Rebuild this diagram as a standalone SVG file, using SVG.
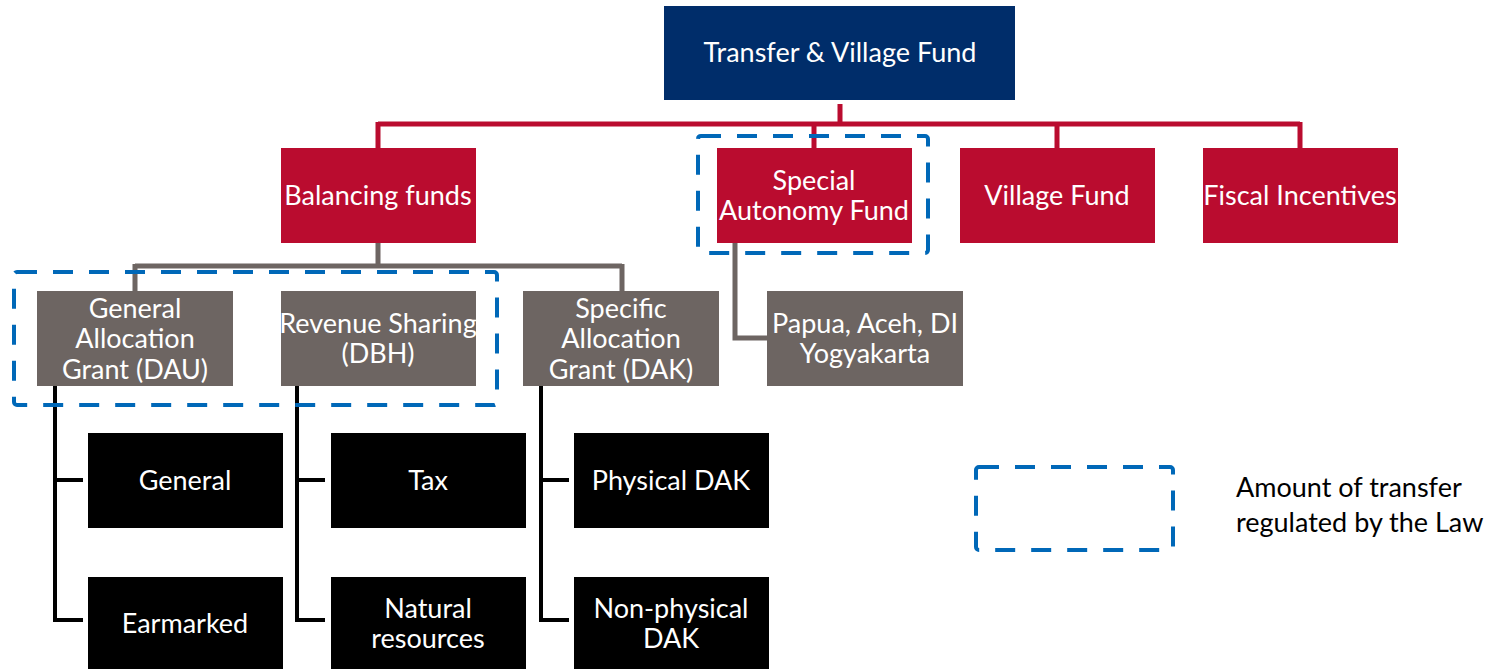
<svg xmlns="http://www.w3.org/2000/svg" width="1495" height="669" viewBox="0 0 1495 669">
<style>
.t{font-family:Lato,"Open Sans","Liberation Sans",sans-serif;font-size:27px;fill:#fff;text-anchor:middle}
.navy{fill:#002D6A}
.red{fill:#BA0C2F}
.gray{fill:#6D6562}
.blk{fill:#000}
.cr{stroke:#BA0C2F;stroke-width:5;fill:none}
.cg{stroke:#6D6562;stroke-width:5;fill:none}
.cb{stroke:#000;stroke-width:4;fill:none}
.dash{stroke:#0068B8;stroke-width:4;fill:none;stroke-dasharray:20 16}
.lg{font-family:Lato,"Open Sans","Liberation Sans",sans-serif;font-size:27px;fill:#000}
</style>
<rect width="1495" height="669" fill="#fff"/>
<g id="connectors">
<path class="cr" d="M840 104V124M378 124H1300M378 122V148M814 122V148M1057 122V148M1300 122V148"/>
<path class="cg" d="M378 243V266M135 266H622M135 264V291M622 264V291M735 243V338H767"/>
<path class="cb" d="M55 386V620H83M55 480H83M297 386V620H325M297 480H325M541 386V620H569M541 480H569"/>
</g>
<g id="top"><rect class="navy" x="664" y="6" width="351" height="94"/><text class="t" x="840" y="62">Transfer &amp; Village Fund</text></g>
<g id="balancing"><rect class="red" x="281" y="148" width="195" height="95"/><text class="t" x="378" y="205">Balancing funds</text></g>
<g id="special"><rect class="red" x="717" y="148" width="195" height="95"/><text class="t" x="814" y="190">Special</text><text class="t" x="814" y="220">Autonomy Fund</text></g>
<g id="village"><rect class="red" x="960" y="148" width="195" height="95"/><text class="t" x="1057" y="205">Village Fund</text></g>
<g id="fiscal"><rect class="red" x="1203" y="148" width="195" height="95"/><text class="t" x="1300" y="205">Fiscal Incentives</text></g>
<g id="dau"><rect class="gray" x="37" y="291" width="196" height="95"/><text class="t" x="135" y="318">General</text><text class="t" x="135" y="348">Allocation</text><text class="t" x="135" y="379">Grant (DAU)</text></g>
<g id="dbh"><rect class="gray" x="281" y="291" width="195" height="95"/><text class="t" x="378" y="333">Revenue Sharing</text><text class="t" x="378" y="363">(DBH)</text></g>
<g id="dak"><rect class="gray" x="523" y="291" width="196" height="95"/><text class="t" x="621" y="318">Specific</text><text class="t" x="621" y="348">Allocation</text><text class="t" x="621" y="379">Grant (DAK)</text></g>
<g id="papua"><rect class="gray" x="767" y="291" width="196" height="95"/><text class="t" x="865" y="333">Papua, Aceh, DI</text><text class="t" x="865" y="363">Yogyakarta</text></g>
<g id="general"><rect class="blk" x="88" y="433" width="195" height="95"/><text class="t" x="185" y="490">General</text></g>
<g id="earmarked"><rect class="blk" x="88" y="577" width="195" height="95"/><text class="t" x="185" y="633">Earmarked</text></g>
<g id="tax"><rect class="blk" x="331" y="433" width="195" height="95"/><text class="t" x="428" y="490">Tax</text></g>
<g id="natural"><rect class="blk" x="331" y="577" width="195" height="95"/><text class="t" x="428" y="618">Natural</text><text class="t" x="428" y="648">resources</text></g>
<g id="physical"><rect class="blk" x="574" y="433" width="195" height="95"/><text class="t" x="671" y="490">Physical DAK</text></g>
<g id="nonphysical"><rect class="blk" x="574" y="577" width="195" height="95"/><text class="t" x="671" y="618">Non-physical</text><text class="t" x="671" y="648">DAK</text></g>
<g id="regions">
<rect class="dash" x="698" y="136" width="230" height="117" rx="3"/>
<rect class="dash" x="14" y="272" width="483" height="133" rx="3"/>
</g>
<g id="legend">
<rect class="dash" x="976" y="467" width="197" height="83" rx="3"/>
<text class="lg" x="1236" y="497">Amount of transfer</text>
<text class="lg" x="1236" y="532">regulated by the Law</text>
</g>
</svg>
